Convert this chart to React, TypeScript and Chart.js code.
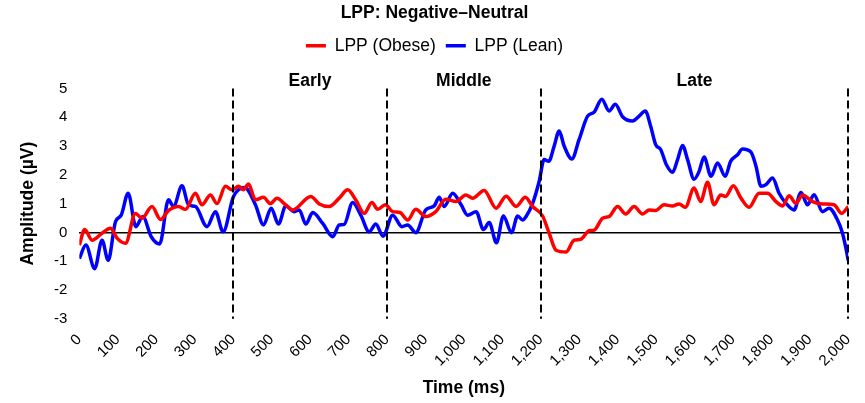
import { useEffect, useRef } from "react";
import { Chart, registerables } from "chart.js";

Chart.register(...registerables);

// sample times (ms) and amplitudes (µV)
const obeseTimes = [
  0, 14, 33, 59, 81, 98, 120, 146, 163, 189, 211, 232, 258, 276, 302, 319, 341,
  358, 380, 397, 414, 427, 440, 458, 479, 497, 514, 536, 555, 602, 624, 650, 676,
  698, 719, 741, 761, 776, 796, 815, 834, 854, 875, 901, 927, 953, 980, 1005,
  1023, 1053, 1084, 1110, 1136, 1160, 1179, 1205, 1222, 1240, 1266, 1287, 1304,
  1326, 1339, 1361, 1378, 1400, 1421, 1443, 1465, 1482, 1499, 1521, 1543, 1560,
  1576, 1599, 1616, 1634, 1651, 1668, 1681, 1701, 1721, 1742, 1768, 1790, 1812,
  1829, 1846, 1864, 1881, 1907, 1933, 1963, 1983, 2000,
];
const obeseValues = [
  -0.44, 0.1, -0.27, -0.03, 0.14, -0.2, -0.38, 0.66, 0.49, 0.9, 0.45, 0.76, 0.9,
  0.8, 1.36, 0.96, 1.3, 1.0, 1.6, 1.48, 1.6, 1.48, 1.68, 1.13, 1.22, 1.0, 1.19,
  0.96, 0.78, 1.25, 0.99, 0.9, 1.19, 1.48, 1.13, 0.66, 1.04, 0.8, 0.96, 0.72,
  0.69, 0.43, 0.8, 0.55, 0.72, 1.15, 1.07, 1.3, 1.19, 1.46, 0.84, 1.26, 0.9,
  1.22, 0.9, 0.57, -0.03, -0.62, -0.68, -0.27, -0.24, 0.06, 0.08, 0.49, 0.55,
  0.9, 0.64, 0.9, 0.64, 0.78, 0.76, 0.96, 0.92, 0.99, 0.87, 1.54, 1.07, 1.74,
  0.96, 1.3, 1.25, 1.62, 1.19, 0.87, 1.36, 1.36, 1.07, 0.92, 1.27, 1.01, 1.3,
  1.07, 0.99, 0.96, 0.66, 0.9,
];

const leanTimes = [
  0, 17, 40, 59, 75, 94, 109, 127, 147, 165, 187, 209, 232, 245, 267, 284, 302,
  332, 354, 374, 401, 430, 458, 479, 499, 518, 537, 559, 572, 589, 607, 633, 659,
  676, 689, 711, 732, 754, 771, 790, 815, 839, 854, 875, 901, 923, 936, 949, 971,
  993, 1010, 1032, 1051, 1066, 1085, 1103, 1124, 1140, 1153, 1162, 1179, 1196,
  1209, 1221, 1235, 1248, 1261, 1281, 1300, 1322, 1339, 1359, 1378, 1394, 1413,
  1439, 1456, 1472, 1486, 1499, 1512, 1527, 1543, 1556, 1569, 1582, 1599, 1612,
  1625, 1643, 1660, 1680, 1694, 1712, 1725, 1747, 1760, 1773, 1786, 1803, 1820,
  1838, 1859, 1877, 1894, 1911, 1933, 1950, 1972, 1985, 1994, 2000,
];
const leanValues = [
  -0.91, -0.44, -1.26, -0.27, -0.97, 0.37, 0.6, 1.36, 0.2, 0.55, -0.15, -0.4,
  1.13, 0.9, 1.62, 0.96, 0.9, 0.2, 0.72, 0.02, 1.25, 1.56, 0.96, 0.26, 0.84,
  0.29, 0.92, 0.72, 0.78, 0.29, 0.69, 0.31, -0.15, 0.26, 0.28, 1.04, 0.6, 0.02,
  0.29, -0.13, 0.6, 0.2, 0.26, -0.01, 0.78, 0.92, 1.22, 0.9, 1.36, 0.96, 0.6,
  0.72, 0.1, 0.34, -0.36, 0.57, -0.01, 0.57, 0.43, 0.55, 1.01, 1.77, 2.53, 2.47,
  3.0, 3.52, 3.0, 2.55, 3.23, 4.04, 4.18, 4.63, 4.22, 4.45, 4.02, 3.87, 4.04,
  4.22, 3.69, 3.05, 2.88, 2.35, 2.09, 2.53, 3.02, 2.53, 1.85, 2.12, 2.62, 1.95,
  2.41, 1.95, 2.47, 2.7, 2.9, 2.79, 2.3, 1.6, 1.66, 1.89, 1.36, 1.01, 0.78, 1.39,
  0.96, 1.31, 0.72, 0.84, 0.43, -0.03, -0.56, -0.97,
];

// time windows marked with dashed lines
const phaseNames = ["Early", "Middle", "Late"];
const phaseStarts = [400, 800, 1200];
const phaseEnds = [800, 1200, 2000];

const FONT = "Arial, 'Liberation Sans', sans-serif";

// extra room under the legend for the phase labels
const legendGap = {
  id: "legendGap",
  beforeInit(chart: any) {
    const legend = chart.legend;
    const fit = legend.fit;
    legend.fit = function () {
      fit.call(this);
      this.height += 24;
    };
  },
};

const phasePlugin = {
  id: "phases",
  afterDatasetsDraw(chart: Chart) {
    const { ctx, chartArea, scales } = chart;
    const x = scales.x;
    const bounds = Array.from(new Set([...phaseStarts, ...phaseEnds]));
    ctx.save();
    ctx.strokeStyle = "#000";
    ctx.lineWidth = 2;
    ctx.setLineDash([8, 4]);
    bounds.forEach((b) => {
      const px = Math.round(x.getPixelForValue(b));
      ctx.beginPath();
      ctx.moveTo(px, chartArea.top);
      ctx.lineTo(px, chartArea.bottom);
      ctx.stroke();
    });
    ctx.setLineDash([]);
    ctx.fillStyle = "#000";
    ctx.font = `bold 17.5px ${FONT}`;
    ctx.textAlign = "center";
    ctx.textBaseline = "middle";
    phaseNames.forEach((name, i) => {
      const cx = (x.getPixelForValue(phaseStarts[i]) + x.getPixelForValue(phaseEnds[i])) / 2;
      ctx.fillText(name, cx, chartArea.top - 7);
    });
    ctx.restore();
  },
};

export default function App() {
  const canvasRef = useRef<HTMLCanvasElement | null>(null);
  const chartRef = useRef<Chart | null>(null);

  useEffect(() => {
    if (!canvasRef.current) return;
    chartRef.current?.destroy();
    chartRef.current = new Chart(canvasRef.current, {
      type: "line",
      data: {
        datasets: [
          {
            label: "LPP (Obese)",
            data: obeseTimes.map((t, i) => ({ x: t, y: obeseValues[i] })),
            borderColor: "#ff0000",
            backgroundColor: "#ff0000",
            borderWidth: 3.5,
            pointRadius: 0,
            cubicInterpolationMode: "monotone",
          },
          {
            label: "LPP (Lean)",
            data: leanTimes.map((t, i) => ({ x: t, y: leanValues[i] })),
            borderColor: "#0000ff",
            backgroundColor: "#0000ff",
            borderWidth: 3.5,
            pointRadius: 0,
            cubicInterpolationMode: "monotone",
          },
        ],
      },
      options: {
        responsive: false,
        animation: false,
        layout: { padding: { left: 18, right: 14, top: 3, bottom: 4 } },
        plugins: {
          title: {
            display: true,
            text: "LPP: Negative–Neutral",
            color: "#000",
            font: { family: FONT, size: 17.5, weight: "bold" },
            padding: { top: 0, bottom: 3 },
          },
          legend: {
            display: true,
            labels: {
              color: "#000",
              font: { family: FONT, size: 17.5 },
              usePointStyle: true,
              pointStyle: "line",
              pointStyleWidth: 20,
              boxHeight: 15,
              padding: 10,
            },
          },
          tooltip: { enabled: false },
        },
        scales: {
          x: {
            type: "linear",
            min: 0,
            max: 2000,
            grid: { display: false },
            border: { display: false },
            ticks: {
              stepSize: 100,
              autoSkip: false,
              minRotation: 45,
              maxRotation: 45,
              color: "#000",
              font: { family: FONT, size: 15 },
              padding: 4,
              callback: (v) => Number(v).toLocaleString("en-US"),
            },
            title: {
              display: true,
              text: "Time (ms)",
              color: "#000",
              font: { family: FONT, size: 17.5, weight: "bold" },
              padding: { top: 4, bottom: 0 },
            },
          },
          y: {
            min: -3,
            max: 5,
            grid: {
              drawTicks: false,
              lineWidth: 1.5,
              color: (c) => (c.tick && c.tick.value === 0 ? "#000" : "transparent"),
            },
            border: { display: false },
            ticks: {
              stepSize: 1,
              color: "#000",
              font: { family: FONT, size: 15 },
              padding: 12,
            },
            title: {
              display: true,
              text: "Amplitude (µV)",
              color: "#000",
              font: { family: FONT, size: 17.5, weight: "bold" },
              padding: { top: 0, bottom: 3 },
            },
          },
        },
      },
      plugins: [legendGap, phasePlugin],
    });
    return () => {
      chartRef.current?.destroy();
      chartRef.current = null;
    };
  }, []);

  return (
    <div style={{ position: "absolute", left: 0, top: 0, width: 865, height: 403 }}>
      <canvas ref={canvasRef} width={865} height={403} />
    </div>
  );
}
